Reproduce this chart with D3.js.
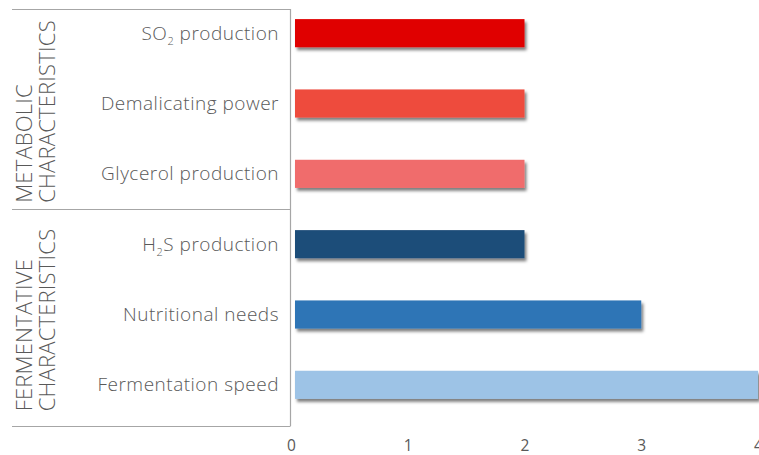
<!DOCTYPE html>
<html lang="en">
<head>
  <meta charset="utf-8">
  <title>Yeast characteristics</title>
  <script src="https://d3js.org/d3.v7.min.js"></script>
  <style>
    body { margin: 0; background: #fff; }
    text { font-family: "Open Sans", sans-serif; fill: #595959; }
  </style>
</head>
<body>
  <div id="chart"></div>
<script>
  // data
  var categories = ["SO2 production", "Demalicating power", "Glycerol production",
    "H2S production", "Nutritional needs", "Fermentation speed"];
  var values = [2, 2, 2, 2, 3, 4];
  var colors = ["#e00000", "#ee4b3c", "#f06c6c", "#1f4e79", "#2e75b6", "#9dc3e6"];
  var groups = [
    { lines: ["METABOLIC", "CHARACTERISTICS"], top: 9, bottom: 209 },
    { lines: ["FERMENTATIVE", "CHARACTERISTICS"], top: 209, bottom: 426 }
  ];
  var xTicks = [0, 1, 2, 3, 4];

  var width = 759, height = 455;

  var svg = d3.select("#chart").append("svg")
    .attr("width", width)
    .attr("height", height);

  var defs = svg.append("defs");
  var f = defs.append("filter").attr("id", "shadow")
    .attr("x", "-5%").attr("y", "-30%").attr("width", "115%").attr("height", "180%");
  f.append("feDropShadow")
    .attr("dx", 2).attr("dy", 3)
    .attr("stdDeviation", 1.8)
    .attr("flood-color", "#000")
    .attr("flood-opacity", 0.5);

  var x = d3.scaleLinear().domain([0, 4]).range([291, 758]);
  var y = d3.scaleBand().domain(categories).range([-2, 420])
    .paddingInner(0.6).paddingOuter(0.3);

  // bars
  svg.selectAll(".bar")
    .data(categories)
    .enter()
    .append("rect")
    .attr("class", "bar")
    .attr("x", x(0) + 4)
    .attr("y", function(d) { return y(d); })
    .attr("width", function(d, i) { return x(values[i]) - x(0) - 4; })
    .attr("height", y.bandwidth())
    .attr("fill", function(d, i) { return colors[i]; })
    .attr("filter", "url(#shadow)");

  // frame lines
  var frame = svg.append("g").attr("stroke", "#a6a6a6").attr("stroke-width", 1.2);
  frame.append("line").attr("x1", 290.5).attr("x2", 290.5).attr("y1", 9).attr("y2", 426);
  [9, 209, 426].forEach(function(yy) {
    frame.append("line").attr("x1", 12).attr("x2", 290.5).attr("y1", yy + 0.5).attr("y2", yy + 0.5);
  });

  // category labels with subscripts
  var labels = svg.selectAll(".cat")
    .data(categories)
    .enter()
    .append("text")
    .attr("class", "cat")
    .attr("x", 279)
    .attr("y", function(d) { return y(d) + y.bandwidth() / 2 + 6.5; })
    .attr("text-anchor", "end")
    .attr("font-size", "19px")
    .attr("font-weight", 300)
    .attr("letter-spacing", "0.5px");

  labels.each(function(d) {
    var t = d3.select(this);
    var m = d.match(/^([A-Z]+)2([A-Z]*)(.*)$/);
    if (m) {
      t.append("tspan").text(m[1]);
      t.append("tspan").attr("dy", 5).attr("font-size", "11px").text("2");
      t.append("tspan").attr("dy", -5).text(m[2] + m[3]);
    } else {
      t.text(d);
    }
  });

  // group labels, block centred in its section, lines aligned at the bottom
  groups.forEach(function(g) {
    var texts = g.lines.map(function(line, i) {
      return svg.append("text")
        .attr("font-size", "22px")
        .attr("font-weight", 300)
        .attr("letter-spacing", "0.2px")
        .text(line);
    });
    var longest = d3.max(texts, function(t) { return t.node().getComputedTextLength(); });
    var base = (g.top + g.bottom) / 2 + 2.5 + longest / 2;
    texts.forEach(function(t, i) {
      t.attr("transform", "translate(" + (32 + i * 23) + "," + base + ") rotate(-90)");
    });
  });

  // x axis
  var xAxis = svg.append("g")
    .attr("transform", "translate(0,451)")
    .call(d3.axisBottom(x).tickValues(xTicks).tickSize(0).tickFormat(d3.format("d")));
  xAxis.select(".domain").remove();
  xAxis.selectAll("text")
    .attr("y", 0)
    .attr("dy", 0)
    .attr("font-size", "15.5px")
    .attr("font-family", "Open Sans")
    .attr("fill", "#595959");
</script>
</body>
</html>
